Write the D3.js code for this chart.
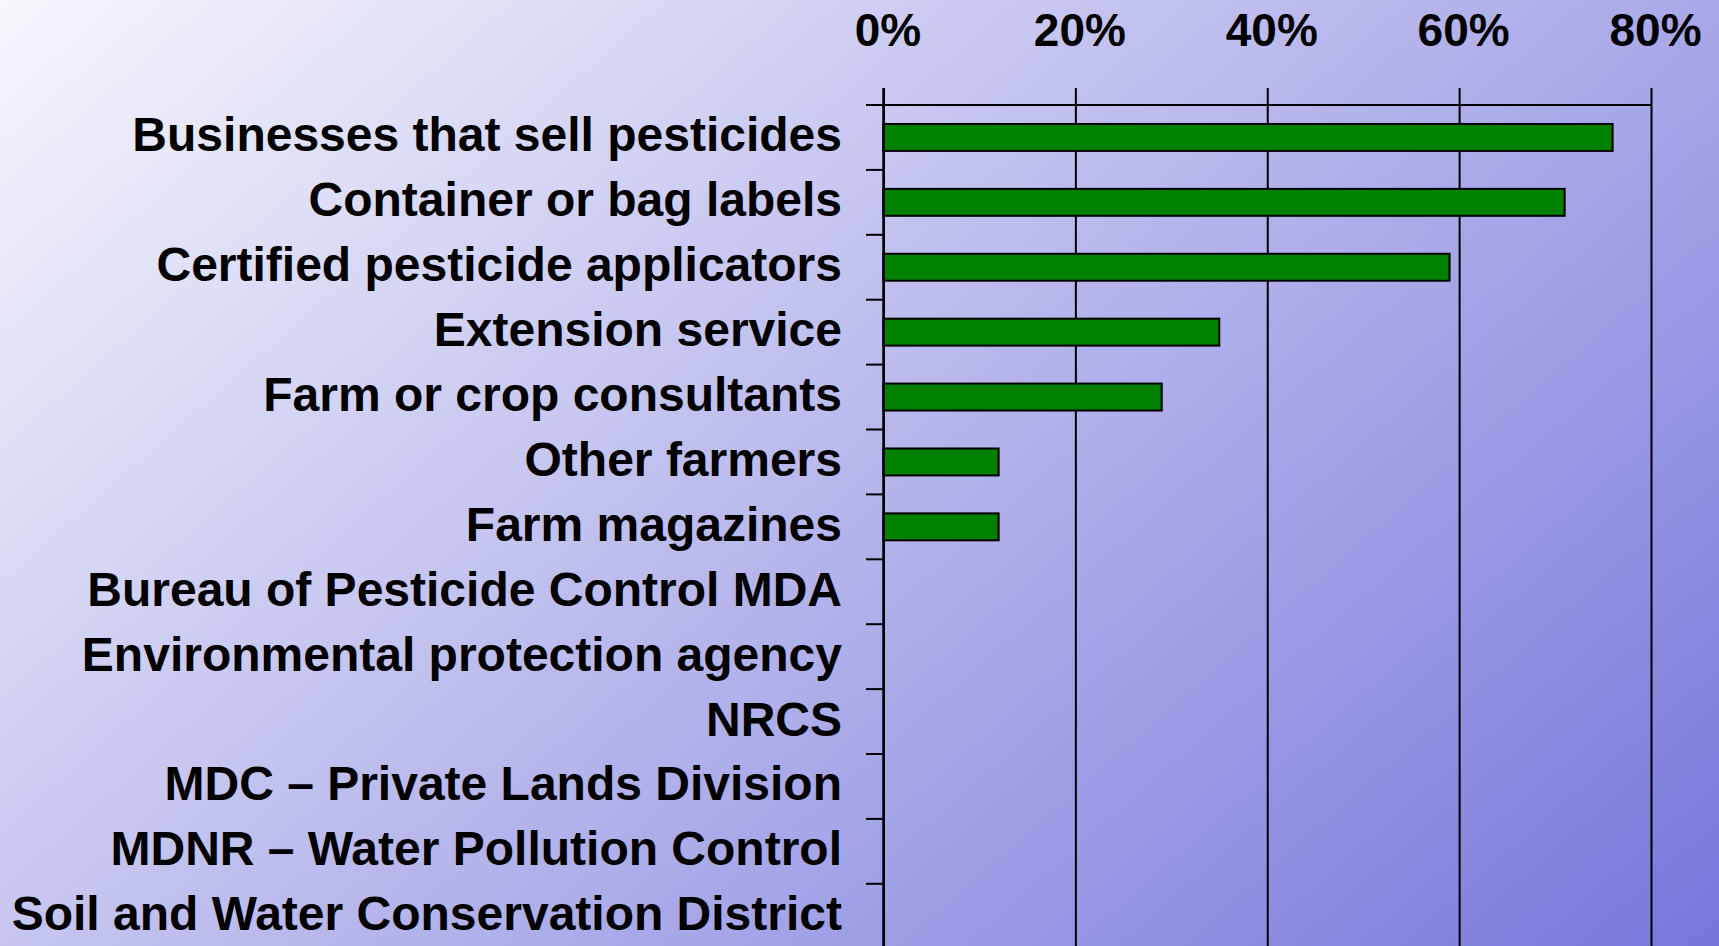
<!DOCTYPE html>
<html>
<head>
<meta charset="utf-8">
<script src="https://cdn.jsdelivr.net/npm/d3@7"></script>
<style>
  html, body { margin: 0; padding: 0; overflow: hidden; }
  svg { display: block; }
</style>
</head>
<body>
<svg id="chart" width="1719" height="946"></svg>
<script>
// ---- data ----
const categories = [
  "Businesses that sell pesticides",
  "Container or bag labels",
  "Certified pesticide applicators",
  "Extension service",
  "Farm or crop consultants",
  "Other farmers",
  "Farm magazines",
  "Bureau of Pesticide Control MDA",
  "Environmental protection agency",
  "NRCS",
  "MDC \u2013 Private Lands Division",
  "MDNR \u2013 Water Pollution Control",
  "Soil and Water Conservation District"
];
const values = [76, 71, 59, 35, 29, 12, 12, 0, 0, 0, 0, 0, 0];
const tickValues = [0, 20, 40, 60, 80];
const tickLabels = ["0%", "20%", "40%", "60%", "80%"];

(function () {
// ---- layout ----
const W = 1719, H = 946;
const x0 = 883.5, x1 = 1651;
const yTop = 105, step = 64.9;
const yBottom = yTop + step * categories.length;

const svg = d3.select("#chart");

// background gradient
const defs = svg.append("defs");
const grad = defs.append("linearGradient")
  .attr("id", "bg").attr("gradientUnits", "userSpaceOnUse")
  .attr("x1", 0).attr("y1", 0).attr("x2", 1214).attr("y2", 1387);
grad.append("stop").attr("offset", "0%").attr("stop-color", "#f7f7fd");
grad.append("stop").attr("offset", "100%").attr("stop-color", "#7777dc");
svg.append("rect").attr("width", W).attr("height", H).attr("fill", "url(#bg)");

const x = d3.scaleLinear().domain([0, 80]).range([x0, x1]);
const y = d3.scaleBand().domain(categories).range([yTop, yBottom])
  .paddingInner(0.585).paddingOuter(0.2925);

// vertical gridlines (downward)
const grid = svg.append("g").attr("transform", `translate(0,${yTop})`)
  .call(d3.axisTop(x).tickValues(tickValues).tickSize(-(H - yTop + 10)).tickFormat(""));
grid.select(".domain").remove();
grid.selectAll(".tick line").attr("stroke", "#000").attr("stroke-width", 2);

// top axis with ticks upward and labels
const topAxis = svg.append("g").attr("transform", `translate(0,${yTop})`)
  .call(d3.axisTop(x).tickValues(tickValues).tickSize(17).tickPadding(0)
    .tickFormat((d, i) => tickLabels[i]));
topAxis.select(".domain").remove();
topAxis.selectAll(".tick line").attr("stroke", "#000").attr("stroke-width", 2);
topAxis.selectAll(".tick text")
  .attr("y", -59).attr("dy", 0).attr("dx", 4)
  .attr("font-family", "'Liberation Sans', Arial, sans-serif")
  .attr("font-weight", "bold").attr("font-size", 46).attr("fill", "#000");

// top horizontal line
svg.append("line").attr("x1", x0 - 17.5).attr("x2", x1 + 1)
  .attr("y1", yTop).attr("y2", yTop).attr("stroke", "#000").attr("stroke-width", 2);

// category boundary ticks on left
const bounds = d3.range(1, categories.length + 1).map(k => y.range()[0] + k * y.step());
svg.append("g").selectAll("line").data(bounds).join("line")
  .attr("x1", x0 - 17.5).attr("x2", x0).attr("y1", d => d).attr("y2", d => d)
  .attr("stroke", "#000").attr("stroke-width", 2);

// bars
svg.append("g").selectAll("rect").data(categories.map((c, i) => ({c, v: values[i]})).filter(d => d.v > 0))
  .join("rect")
  .attr("x", x(0)).attr("y", d => y(d.c))
  .attr("width", d => x(d.v) - x(0)).attr("height", y.bandwidth())
  .attr("fill", "#008000").attr("stroke", "#000").attr("stroke-width", 2);

// left axis line
svg.append("line").attr("x1", x0).attr("x2", x0).attr("y1", yTop - 17).attr("y2", H + 5)
  .attr("stroke", "#000").attr("stroke-width", 2.5);

// category labels
svg.append("g").selectAll("text").data(categories).join("text")
  .attr("x", 842).attr("y", d => y(d) + y.bandwidth() / 2 + 14)
  .attr("text-anchor", "end")
  .attr("font-family", "'Liberation Sans', Arial, sans-serif")
  .attr("font-weight", "bold").attr("font-size", 48).attr("fill", "#000")
  .text(d => d);
})();
</script>
</body>
</html>
